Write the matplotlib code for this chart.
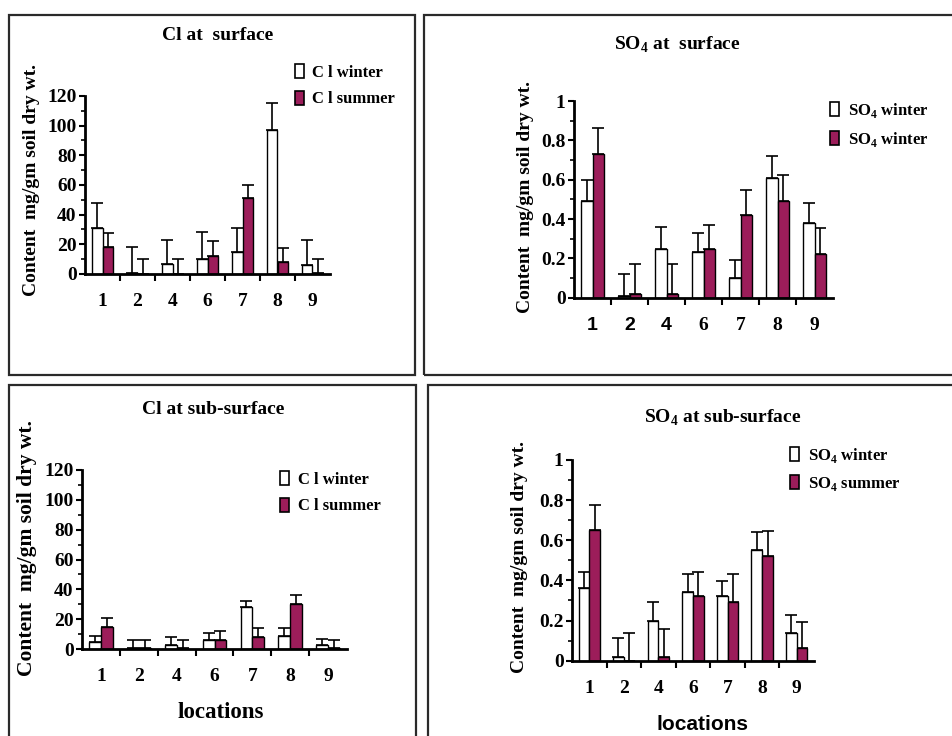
import matplotlib
matplotlib.use("Agg")
import matplotlib.pyplot as plt
import numpy as np
from matplotlib.patches import Rectangle, Patch
from matplotlib.ticker import MultipleLocator, FormatStrFormatter, FixedLocator

plt.rcParams['font.family'] = ['Liberation Serif', 'DejaVu Serif']
plt.rcParams['font.weight'] = 'bold'
plt.rcParams['mathtext.fontset'] = 'custom'
plt.rcParams['mathtext.rm'] = 'Liberation Serif:bold'
plt.rcParams['mathtext.bf'] = 'Liberation Serif:bold'

# ---------------- data ----------------
locations = ['1', '2', '4', '6', '7', '8', '9']

cl_surf_winter = [31, 1, 7, 10, 15, 97, 6]
cl_surf_winter_err = [17, 17, 16, 18, 16, 18, 17]
cl_surf_summer = [18, 0, 0, 12, 51, 8, 1]
cl_surf_summer_err = [9.5, 10, 10, 10, 9, 9.5, 9]

so4_surf_winter = [0.49, 0.01, 0.25, 0.23, 0.10, 0.61, 0.38]
so4_surf_winter_err = [0.11, 0.11, 0.11, 0.10, 0.09, 0.11, 0.10]
so4_surf_summer = [0.73, 0.02, 0.02, 0.25, 0.42, 0.49, 0.22]
so4_surf_summer_err = [0.135, 0.15, 0.15, 0.12, 0.125, 0.135, 0.135]

cl_sub_winter = [5, 1, 3, 6, 28, 9, 3]
cl_sub_winter_err = [4, 5, 5, 5, 4, 5, 4]
cl_sub_summer = [15, 1, 1, 6, 8, 30, 1]
cl_sub_summer_err = [6, 5, 5, 6, 6, 6.5, 5]

so4_sub_winter = [0.36, 0.02, 0.20, 0.34, 0.32, 0.55, 0.14]
so4_sub_winter_err = [0.08, 0.095, 0.09, 0.09, 0.075, 0.09, 0.087]
so4_sub_summer = [0.65, 0.0, 0.02, 0.32, 0.29, 0.52, 0.065]
so4_sub_summer_err = [0.125, 0.14, 0.14, 0.12, 0.14, 0.125, 0.13]

cl_labels = ['C l winter', 'C l summer']
so4_surf_labels = [r'SO$_\mathbf{4}$ winter', r'SO$_\mathbf{4}$ winter']
so4_sub_labels = [r'SO$_\mathbf{4}$ winter', r'SO$_\mathbf{4}$ summer']

SUMMER = '#9c1d5a'
W, H = 952, 736

fig = plt.figure(figsize=(W / 100, H / 100), dpi=100)


def fx(x):
    return x / W


def fy(y):
    return 1 - y / H


def axes_px(x0, x1, ybot, ytop):
    return fig.add_axes([fx(x0), fy(ybot), (x1 - x0) / W, (ybot - ytop) / H])


# panel boxes
for (x0, y0, x1, y1) in [(9, 15, 415, 375), (424, 15, 960, 375),
                         (9, 385, 416, 745), (428, 385, 960, 745)]:
    fig.add_artist(Rectangle((fx(x0), fy(y1)), (x1 - x0) / W, (y1 - y0) / H,
                             transform=fig.transFigure, fill=False,
                             edgecolor='#2a2a2a', linewidth=1.6, zorder=0))


def panel(ax, winter, werr, summer, serr, ymax, ystep, yminor, labels,
          leg_xy, fmt, sans_ticks=()):
    x = np.arange(len(locations))
    w = 0.31
    ax.bar(x - w / 2, winter, w, color='white', edgecolor='black',
           linewidth=1.0, zorder=2)
    ax.bar(x + w / 2, summer, w, color=SUMMER, edgecolor='black',
           linewidth=1.0, zorder=2)
    ax.errorbar(x - w / 2, winter, yerr=[np.zeros(len(x)), werr], fmt='none',
                ecolor='black', elinewidth=1.2, capsize=4.5, capthick=1.2,
                zorder=1)
    ax.errorbar(x + w / 2, summer, yerr=[np.zeros(len(x)), serr], fmt='none',
                ecolor='black', elinewidth=1.2, capsize=4.5, capthick=1.2,
                zorder=1)
    ax.set_xlim(-0.5, len(x) - 0.5)
    ax.set_ylim(0, ymax)
    for s in ['top', 'right']:
        ax.spines[s].set_visible(False)
    for s in ['left', 'bottom']:
        ax.spines[s].set_linewidth(2.0)
    ax.yaxis.set_major_locator(MultipleLocator(ystep))
    ax.yaxis.set_minor_locator(MultipleLocator(yminor))
    ax.yaxis.set_major_formatter(FormatStrFormatter(fmt))
    ax.tick_params(axis='y', which='major', direction='out', length=4,
                   width=1.5, pad=2, labelsize=14)
    ax.tick_params(axis='y', which='minor', direction='out', length=3,
                   width=1.2)
    ax.set_xticks(x)
    ax.set_xticklabels(locations)
    ax.xaxis.set_minor_locator(FixedLocator(np.arange(0.5, len(x) - 0.5, 1)))
    ax.tick_params(axis='x', which='major', length=0, pad=14, labelsize=14)
    ax.tick_params(axis='x', which='minor', direction='out', length=5,
                   width=1.5)
    for i, lab in enumerate(ax.get_xticklabels()):
        lab.set_fontweight('bold')
        if i in sans_ticks:
            lab.set_fontfamily('Liberation Sans')
    for lab in ax.get_yticklabels():
        lab.set_fontweight('bold')
    handles = [Patch(facecolor='white', edgecolor='black', linewidth=1.2),
               Patch(facecolor=SUMMER, edgecolor='black', linewidth=1.2)]
    ax.legend(handles, labels, loc='upper left',
              bbox_to_anchor=(fx(leg_xy[0]), fy(leg_xy[1])),
              bbox_transform=fig.transFigure, frameon=False,
              handlelength=0.55, handleheight=0.9, handletextpad=0.5,
              labelspacing=0.6, borderpad=0, borderaxespad=0,
              prop={'family': 'Liberation Serif', 'weight': 'bold',
                    'size': 12})


ylab = 'Content  mg/gm soil dry wt.'

# top-left
ax1 = axes_px(85, 330, 274, 96)
panel(ax1, cl_surf_winter, cl_surf_winter_err, cl_surf_summer,
      cl_surf_summer_err, 120, 20, 10, cl_labels, (295, 64), '%d')
fig.text(fx(218), fy(35), 'Cl at  surface', ha='center', va='center',
         fontsize=14, fontweight='bold')
fig.text(fx(32), fy(180), ylab, rotation=90, ha='center', va='center',
         fontsize=14, fontweight='bold')

# top-right
ax2 = axes_px(574, 833, 297.7, 101)
panel(ax2, so4_surf_winter, so4_surf_winter_err, so4_surf_summer,
      so4_surf_summer_err, 1.0, 0.2, 0.1, so4_surf_labels, (830, 101), '%g',
      sans_ticks=(0, 1, 2))
fig.text(fx(677), fy(45), r'SO$_\mathbf{4}$ at  surface', ha='center',
         va='center', fontsize=14, fontweight='bold')
fig.text(fx(525), fy(197), ylab, rotation=90, ha='center', va='center',
         fontsize=14, fontweight='bold')

# bottom-left
ax3 = axes_px(82, 347, 649, 470)
panel(ax3, cl_sub_winter, cl_sub_winter_err, cl_sub_summer,
      cl_sub_summer_err, 120, 20, 10, cl_labels, (280, 471), '%d')
fig.text(fx(213), fy(410), 'Cl at sub-surface', ha='center', va='center',
         fontsize=14, fontweight='bold')
fig.text(fx(27), fy(548), ylab, rotation=90, ha='center', va='center',
         fontsize=15.5, fontweight='bold')
fig.text(fx(221), fy(713), 'locations', ha='center', va='center',
         fontsize=16.5, fontweight='bold')

# bottom-right
ax4 = axes_px(572, 814, 660.7, 460)
panel(ax4, so4_sub_winter, so4_sub_winter_err, so4_sub_summer,
      so4_sub_summer_err, 1.0, 0.2, 0.1, so4_sub_labels, (790, 446), '%g')
fig.text(fx(723), fy(418), r'SO$_\mathbf{4}$ at sub-surface', ha='center',
         va='center', fontsize=14, fontweight='bold')
fig.text(fx(520), fy(557), ylab, rotation=90, ha='center', va='center',
         fontsize=14, fontweight='bold')
fig.text(fx(703), fy(725), 'locations', ha='center', va='center',
         fontsize=15, fontweight='bold', family='Liberation Sans')

fig.savefig('out.png', dpi=100, facecolor='white')
